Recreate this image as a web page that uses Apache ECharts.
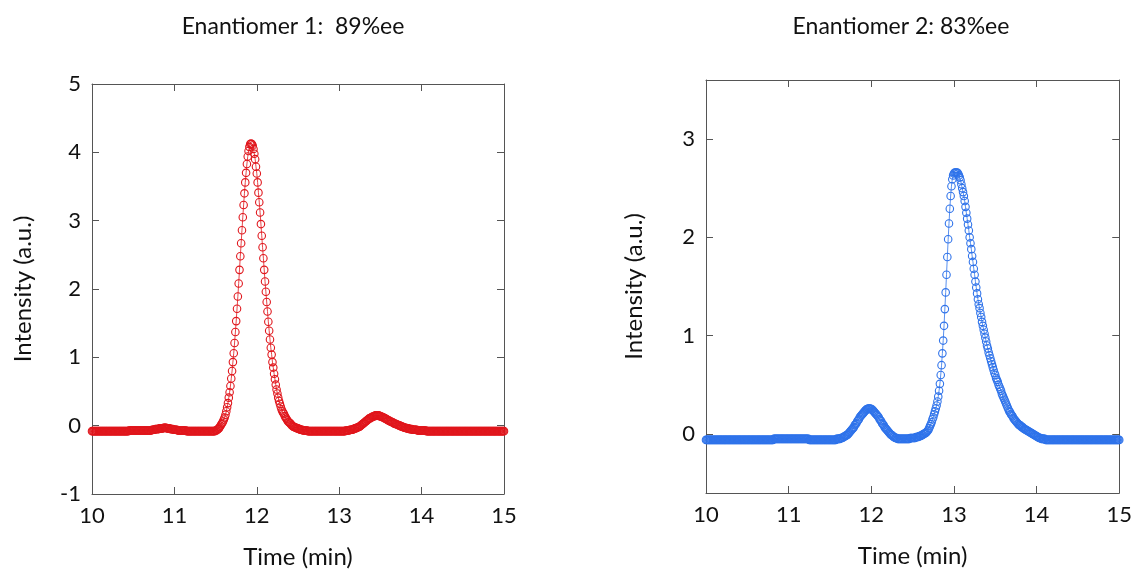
<!DOCTYPE html>
<html><head><meta charset="utf-8">
<script src="https://cdn.jsdelivr.net/npm/echarts@6/dist/echarts.min.js"></script>
<style>html,body{margin:0;padding:0;background:#fff}#c{width:1135px;height:575px}</style>
</head><body><div id="c"></div>
<script>
const titles = ['Enantiomer 1:  89%ee', 'Enantiomer 2: 83%ee'];
const xName = 'Time (min)';
const yName = 'Intensity (a.u.)';
const timeStart = 10, timeStep = 0.01;   // sampling grid of the chromatograms (min)
const xTicks = [10, 11, 12, 13, 14, 15];
const yTicks1 = [-1, 0, 1, 2, 3, 4, 5];
const yTicks2 = [0, 1, 2, 3];

// Enantiomer 1 (red), one row = 0.1 min, starting at 10.00 min
const intensity1 = [
-0.08,-0.08,-0.08,-0.08,-0.08,-0.08,-0.08,-0.08,-0.08,-0.08,
-0.08,-0.08,-0.08,-0.08,-0.08,-0.08,-0.08,-0.08,-0.08,-0.08,
-0.08,-0.08,-0.08,-0.08,-0.08,-0.08,-0.08,-0.08,-0.08,-0.08,
-0.08,-0.08,-0.08,-0.08,-0.08,-0.08,-0.08,-0.08,-0.08,-0.08,
-0.08,-0.08,-0.08,-0.08,-0.08,-0.07,-0.07,-0.07,-0.07,-0.07,
-0.07,-0.07,-0.07,-0.07,-0.07,-0.07,-0.07,-0.07,-0.07,-0.07,
-0.07,-0.07,-0.07,-0.07,-0.07,-0.07,-0.07,-0.07,-0.07,-0.07,
-0.07,-0.07,-0.07,-0.06,-0.06,-0.06,-0.06,-0.05,-0.05,-0.05,
-0.05,-0.05,-0.04,-0.04,-0.04,-0.04,-0.04,-0.03,-0.03,-0.03,
-0.03,-0.04,-0.04,-0.04,-0.04,-0.05,-0.05,-0.05,-0.05,-0.06,
-0.06,-0.06,-0.06,-0.06,-0.07,-0.07,-0.07,-0.07,-0.07,-0.07,
-0.07,-0.07,-0.07,-0.07,-0.07,-0.08,-0.08,-0.08,-0.08,-0.08,
-0.08,-0.08,-0.08,-0.08,-0.08,-0.08,-0.08,-0.08,-0.08,-0.08,
-0.08,-0.08,-0.08,-0.08,-0.08,-0.08,-0.08,-0.08,-0.08,-0.08,
-0.08,-0.08,-0.08,-0.08,-0.08,-0.08,-0.08,-0.08,-0.08,-0.08,
-0.07,-0.07,-0.06,-0.05,-0.04,-0.02,0.00,0.02,0.04,0.06,
0.09,0.12,0.16,0.21,0.27,0.33,0.41,0.49,0.58,0.69,
0.80,0.93,1.06,1.21,1.37,1.53,1.71,1.89,2.08,2.28,
2.48,2.67,2.86,3.05,3.23,3.40,3.56,3.70,3.83,3.94,
4.02,4.08,4.12,4.13,4.12,4.10,4.05,3.98,3.90,3.79,
3.69,3.56,3.41,3.27,3.12,2.95,2.78,2.61,2.45,2.28,
2.11,1.96,1.81,1.67,1.52,1.39,1.26,1.14,1.04,0.93,
0.85,0.76,0.68,0.60,0.53,0.47,0.41,0.36,0.32,0.28,
0.24,0.21,0.19,0.17,0.14,0.12,0.10,0.08,0.06,0.05,
0.04,0.03,0.01,0.00,-0.01,-0.02,-0.02,-0.03,-0.03,-0.04,
-0.04,-0.05,-0.05,-0.06,-0.06,-0.06,-0.07,-0.07,-0.07,-0.07,
-0.07,-0.07,-0.08,-0.08,-0.08,-0.08,-0.08,-0.08,-0.08,-0.08,
-0.08,-0.08,-0.08,-0.08,-0.08,-0.08,-0.08,-0.08,-0.08,-0.08,
-0.08,-0.08,-0.08,-0.08,-0.08,-0.08,-0.08,-0.08,-0.08,-0.08,
-0.08,-0.08,-0.08,-0.08,-0.08,-0.08,-0.08,-0.08,-0.08,-0.08,
-0.08,-0.08,-0.08,-0.08,-0.08,-0.08,-0.08,-0.08,-0.07,-0.07,
-0.07,-0.07,-0.07,-0.06,-0.06,-0.06,-0.06,-0.05,-0.05,-0.04,
-0.04,-0.03,-0.03,-0.02,-0.02,-0.01,0.00,0.01,0.02,0.03,
0.04,0.05,0.06,0.07,0.08,0.09,0.10,0.11,0.11,0.12,
0.13,0.13,0.14,0.14,0.15,0.15,0.15,0.15,0.15,0.14,
0.14,0.13,0.13,0.12,0.12,0.11,0.10,0.10,0.09,0.08,
0.08,0.07,0.06,0.06,0.05,0.05,0.04,0.03,0.03,0.02,
0.02,0.01,0.01,0.00,0.00,-0.01,-0.01,-0.02,-0.02,-0.03,
-0.03,-0.03,-0.04,-0.04,-0.04,-0.05,-0.05,-0.05,-0.05,-0.06,
-0.06,-0.06,-0.06,-0.06,-0.06,-0.07,-0.07,-0.07,-0.07,-0.07,
-0.07,-0.07,-0.07,-0.07,-0.07,-0.07,-0.08,-0.08,-0.08,-0.08,
-0.08,-0.08,-0.08,-0.08,-0.08,-0.08,-0.08,-0.08,-0.08,-0.08,
-0.08,-0.08,-0.08,-0.08,-0.08,-0.08,-0.08,-0.08,-0.08,-0.08,
-0.08,-0.08,-0.08,-0.08,-0.08,-0.08,-0.08,-0.08,-0.08,-0.08,
-0.08,-0.08,-0.08,-0.08,-0.08,-0.08,-0.08,-0.08,-0.08,-0.08,
-0.08,-0.08,-0.08,-0.08,-0.08,-0.08,-0.08,-0.08,-0.08,-0.08,
-0.08,-0.08,-0.08,-0.08,-0.08,-0.08,-0.08,-0.08,-0.08,-0.08,
-0.08,-0.08,-0.08,-0.08,-0.08,-0.08,-0.08,-0.08,-0.08,-0.08,
-0.08,-0.08,-0.08,-0.08,-0.08,-0.08,-0.08,-0.08,-0.08,-0.08,
-0.08,-0.08,-0.08,-0.08,-0.08,-0.08,-0.08,-0.08,-0.08,-0.08,
-0.08
];

// Enantiomer 2 (blue), one row = 0.1 min, starting at 10.00 min
const intensity2 = [
-0.06,-0.06,-0.06,-0.06,-0.06,-0.06,-0.06,-0.06,-0.06,-0.06,
-0.06,-0.06,-0.06,-0.06,-0.06,-0.06,-0.06,-0.06,-0.06,-0.06,
-0.06,-0.06,-0.06,-0.06,-0.06,-0.06,-0.06,-0.06,-0.06,-0.06,
-0.06,-0.06,-0.06,-0.06,-0.06,-0.06,-0.06,-0.06,-0.06,-0.06,
-0.06,-0.06,-0.06,-0.06,-0.06,-0.06,-0.06,-0.06,-0.06,-0.06,
-0.06,-0.06,-0.06,-0.06,-0.06,-0.06,-0.06,-0.06,-0.06,-0.06,
-0.06,-0.06,-0.06,-0.06,-0.06,-0.06,-0.06,-0.06,-0.06,-0.06,
-0.06,-0.06,-0.06,-0.06,-0.06,-0.06,-0.06,-0.06,-0.06,-0.06,
-0.06,-0.06,-0.05,-0.05,-0.05,-0.05,-0.05,-0.05,-0.05,-0.05,
-0.05,-0.05,-0.05,-0.05,-0.05,-0.05,-0.05,-0.05,-0.05,-0.05,
-0.05,-0.05,-0.05,-0.05,-0.05,-0.05,-0.05,-0.05,-0.05,-0.05,
-0.05,-0.05,-0.05,-0.05,-0.05,-0.05,-0.05,-0.05,-0.05,-0.05,
-0.05,-0.05,-0.05,-0.05,-0.05,-0.06,-0.06,-0.06,-0.06,-0.06,
-0.06,-0.06,-0.06,-0.06,-0.06,-0.06,-0.06,-0.06,-0.06,-0.06,
-0.06,-0.06,-0.06,-0.06,-0.06,-0.06,-0.06,-0.06,-0.06,-0.06,
-0.06,-0.06,-0.06,-0.06,-0.06,-0.06,-0.06,-0.06,-0.05,-0.05,
-0.05,-0.05,-0.05,-0.04,-0.04,-0.04,-0.03,-0.03,-0.02,-0.02,
-0.01,-0.01,0.00,0.01,0.02,0.03,0.04,0.05,0.06,0.07,
0.09,0.10,0.11,0.13,0.14,0.15,0.17,0.18,0.19,0.20,
0.21,0.22,0.23,0.24,0.25,0.25,0.26,0.26,0.26,0.26,
0.25,0.25,0.24,0.23,0.22,0.21,0.20,0.19,0.18,0.17,
0.15,0.14,0.13,0.11,0.10,0.09,0.07,0.06,0.05,0.04,
0.03,0.02,0.01,0.00,-0.01,-0.01,-0.02,-0.03,-0.03,-0.04,
-0.04,-0.04,-0.05,-0.05,-0.05,-0.05,-0.05,-0.05,-0.05,-0.05,
-0.05,-0.05,-0.05,-0.05,-0.05,-0.05,-0.05,-0.04,-0.04,-0.04,
-0.04,-0.04,-0.04,-0.04,-0.03,-0.03,-0.03,-0.03,-0.02,-0.02,
-0.02,-0.01,-0.01,0.00,0.00,0.01,0.01,0.02,0.03,0.04,
0.06,0.08,0.10,0.12,0.15,0.17,0.20,0.23,0.26,0.29,
0.33,0.38,0.44,0.51,0.60,0.70,0.82,0.95,1.10,1.27,
1.44,1.62,1.80,1.98,2.14,2.29,2.42,2.52,2.59,2.63,
2.65,2.66,2.66,2.66,2.66,2.65,2.63,2.61,2.58,2.54,
2.50,2.46,2.42,2.37,2.31,2.25,2.19,2.13,2.07,2.00,
1.94,1.88,1.81,1.75,1.68,1.62,1.55,1.49,1.43,1.37,
1.32,1.28,1.23,1.19,1.14,1.10,1.06,1.02,0.98,0.94,
0.90,0.87,0.83,0.80,0.77,0.74,0.71,0.68,0.65,0.62,
0.60,0.57,0.55,0.53,0.50,0.48,0.46,0.44,0.41,0.39,
0.37,0.35,0.33,0.31,0.29,0.27,0.25,0.23,0.22,0.20,
0.19,0.18,0.16,0.15,0.14,0.13,0.12,0.11,0.10,0.09,
0.09,0.08,0.07,0.07,0.06,0.05,0.05,0.04,0.04,0.03,
0.03,0.02,0.02,0.01,0.01,0.00,0.00,-0.01,-0.01,-0.02,
-0.02,-0.03,-0.03,-0.04,-0.04,-0.04,-0.05,-0.05,-0.05,-0.05,
-0.05,-0.06,-0.06,-0.06,-0.06,-0.06,-0.06,-0.06,-0.06,-0.06,
-0.06,-0.06,-0.06,-0.06,-0.06,-0.06,-0.06,-0.06,-0.06,-0.06,
-0.06,-0.06,-0.06,-0.06,-0.06,-0.06,-0.06,-0.06,-0.06,-0.06,
-0.06,-0.06,-0.06,-0.06,-0.06,-0.06,-0.06,-0.06,-0.06,-0.06,
-0.06,-0.06,-0.06,-0.06,-0.06,-0.06,-0.06,-0.06,-0.06,-0.06,
-0.06,-0.06,-0.06,-0.06,-0.06,-0.06,-0.06,-0.06,-0.06,-0.06,
-0.06,-0.06,-0.06,-0.06,-0.06,-0.06,-0.06,-0.06,-0.06,-0.06,
-0.06,-0.06,-0.06,-0.06,-0.06,-0.06,-0.06,-0.06,-0.06,-0.06,
-0.06,-0.06,-0.06,-0.06,-0.06,-0.06,-0.06,-0.06,-0.06,-0.06,
-0.06
];

const FONT = 'Lato, "Noto Sans", sans-serif';
const TEXT = '#111';
const AXIS = '#555';
const RED = '#e0161c';
const BLUE = '#2f73ea';

const pairs = arr => arr.map((v, i) => [+(timeStart + i * timeStep).toFixed(2), v]);

function xAxes(g) {
  const base = {
    gridIndex: g, type: 'value', min: 10, max: 15,
    axisLine: { show: true, onZero: false, lineStyle: { color: AXIS, width: 1 } },
    axisTick: { show: true, inside: true, length: 7, customValues: xTicks, lineStyle: { color: AXIS } },
    splitLine: { show: false }
  };
  return [
    Object.assign({}, base, {
      position: 'bottom',
      axisLabel: { customValues: xTicks, fontSize: 22, color: TEXT, fontFamily: FONT, margin: 11 },
      name: xName, nameLocation: 'middle', nameGap: 51,
      nameTextStyle: { fontSize: 24, color: TEXT, fontFamily: FONT }
    }),
    Object.assign({}, base, { position: 'top', axisLabel: { show: false } })
  ];
}
function yAxes(g, min, max, ticks, gap) {
  const base = {
    gridIndex: g, type: 'value', min: min, max: max,
    axisLine: { show: true, onZero: false, lineStyle: { color: AXIS, width: 1 } },
    axisTick: { show: true, inside: true, length: 7, customValues: ticks, lineStyle: { color: AXIS } },
    splitLine: { show: false }
  };
  return [
    Object.assign({}, base, {
      position: 'left',
      axisLabel: { customValues: ticks, fontSize: 22, color: TEXT, fontFamily: FONT, margin: 11 },
      name: yName, nameLocation: 'middle', nameGap: gap,
      nameTextStyle: { fontSize: 24, color: TEXT, fontFamily: FONT }
    }),
    Object.assign({}, base, { position: 'right', axisLabel: { show: false } })
  ];
}
function series(data, color, xi, yi) {
  return {
    type: 'line', data: pairs(data), xAxisIndex: xi, yAxisIndex: yi,
    symbol: 'circle', symbolSize: 7.5, showAllSymbol: true, sampling: null,
    itemStyle: { color: 'rgba(0,0,0,0)', borderColor: color, borderWidth: 1.1 },
    lineStyle: { color: color, width: 0.8 },
    emphasis: { disabled: true }, silent: true, animation: false, clip: false
  };
}

const chart = echarts.init(document.getElementById('c'), null, { renderer: 'canvas' });
chart.setOption({
  backgroundColor: '#fff',
  animation: false,
  title: [
    { text: titles[0], left: 293, top: 15, textAlign: 'center', padding: 0,
      textStyle: { fontSize: 23, fontWeight: 'normal', color: TEXT, fontFamily: FONT } },
    { text: titles[1], left: 901, top: 15, textAlign: 'center', padding: 0,
      textStyle: { fontSize: 23, fontWeight: 'normal', color: TEXT, fontFamily: FONT } }
  ],
  grid: [
    { left: 92, top: 84, width: 412, height: 410, containLabel: false },
    { left: 706, top: 80, width: 416, height: 413, containLabel: false }
  ],
  xAxis: [...xAxes(0), ...xAxes(1)],
  yAxis: [...yAxes(0, -1, 5, yTicks1, 57), ...yAxes(1, -0.6, 3.6, yTicks2, 60)],
  series: [
    series(intensity1, RED, 0, 0),
    series(intensity2, BLUE, 2, 2)
  ]
});
</script>
</body></html>
